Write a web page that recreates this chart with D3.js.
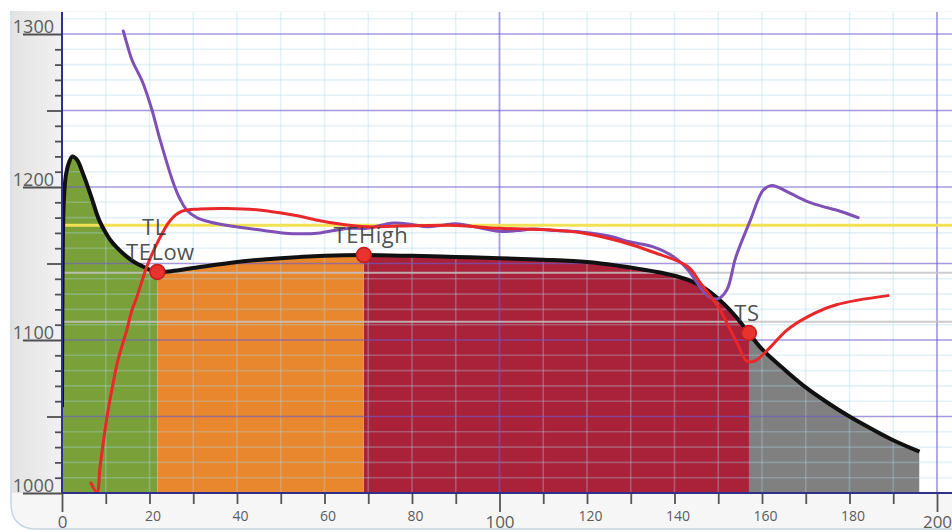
<!DOCTYPE html>
<html>
<head>
<meta charset="utf-8">
<script src="https://cdn.jsdelivr.net/npm/d3@7"></script>
<style>
  html, body { margin: 0; padding: 0; background: #fff; }
  svg { display: block; font-family: "Open Sans", "DejaVu Sans", sans-serif; }
</style>
</head>
<body>
<svg id="chart" width="952" height="532"></svg>
<script>
// ---- Cooling curve (time, temperature) ----
const coolingTime = [0, 0.15, 0.4, 0.9, 1.6, 2.4, 3.5, 4.5, 5.3, 6.4, 7.1, 8, 8.7, 9.7, 11, 12.5, 14.8, 16.5, 18.5, 20, 21.8,
  25, 30, 40, 50, 60, 69, 80, 90, 100, 110, 120, 127.5, 135, 140, 145, 150, 153.5, 157,
  160, 165, 170, 175, 180, 185, 190, 196];
const coolingTemp = [1056, 1150, 1190, 1208, 1216, 1220, 1217.5, 1211, 1205, 1196, 1190, 1182, 1177, 1171.5, 1165.5, 1160.5, 1154.5, 1151, 1148, 1146, 1144.5,
  1145, 1147, 1151, 1153.5, 1155, 1155.5, 1155, 1154.3, 1153.5, 1152.5, 1151, 1148.4, 1145, 1142, 1137, 1127, 1117, 1104.6,
  1094, 1081, 1069, 1059, 1050, 1042, 1034.5, 1027];

// ---- Violet trace ----
const violetTime = [14, 15, 16, 18.5, 20.6, 22.4, 25.4, 27, 28.5, 30.8, 34, 37.6, 45, 52.8, 59, 62, 66, 69.7,
  75.7, 80, 83.4, 87, 90, 96, 100, 104, 107.7, 113, 119, 125, 130, 135, 140, 143, 146, 148, 150, 152,
  154, 157.3, 160.3, 162.3, 165.7, 170, 173, 178, 182];
const violetTemp = [1302, 1292, 1283, 1268, 1250, 1231, 1203, 1192, 1185, 1180, 1177, 1175, 1172, 1169.5, 1170, 1171.5, 1173, 1173,
  1176.5, 1175.5, 1174, 1175, 1176, 1173, 1171, 1171.5, 1172.5, 1171.5, 1170.5, 1168, 1164, 1161, 1154, 1146, 1134, 1128, 1127, 1133,
  1154, 1178, 1198, 1201, 1197, 1191, 1188, 1184, 1180];

// ---- Red trace ----
const redTime = [6.6, 8, 8.7, 10.3, 11.7, 12.8, 14.8, 16, 17.1, 19.4, 21.7, 24.7, 27.3, 31.5, 37.7, 45, 52.8, 59, 62, 69.7,
  77, 88.7, 100, 111.5, 119, 127.5, 135, 143, 146, 150, 152, 154.3, 156.6, 158.5, 161.8, 165.7, 170.3, 177, 188.8];
const redTemp = [1006.5, 1000.6, 1017, 1050, 1072, 1087, 1106.5, 1119.6, 1128, 1148, 1163, 1178, 1184, 1185.6, 1186, 1185, 1181.7, 1178, 1176.5, 1174,
  1174.5, 1175, 1173, 1172, 1170, 1164.5, 1157.5, 1148, 1137, 1121.6, 1111, 1098, 1086, 1086.5, 1095, 1106.5, 1115, 1123, 1129];

// ---- Solidification stages under the cooling curve ----
const stageStart = [0, 21.8, 69, 157];
const stageEnd = [21.8, 69, 157, 196];

// ---- Characteristic points ----
const pointLabels = ["TELow", "TEHigh", "TS"];
const pointTime = [21.8, 69, 157];
const pointTemp = [1144.5, 1155.5, 1104.6];
const upperLabel = "TL";

// ---- Horizontal reference levels ----
const levelTemps = [1175, 1144, 1112];

// ---- Axis ticks ----
const xTickValues = d3.range(0, 201, 10);
const xTickLabels = [0, 20, 40, 60, 80, 100, 120, 140, 160, 180, 200];
const yTickValues = d3.range(1000, 1301, 10);
const yTickLabels = [1000, 1100, 1200, 1300];

// ---- Styles ----
const stageColors = ["#7aa03a", "#e8872d", "#aa213a", "#808080"];
const levelColors = ["#f2e055", "rgba(195,195,195,0.85)", "rgba(195,195,195,0.85)"];

const plot = { l: 62, t: 12, r: 952, b: 493 };
const x = d3.scaleLinear().domain([0, 200]).range([62, 937]);
const y = d3.scaleLinear().domain([1000, 1300]).range([493, 34]);

const svg = d3.select("#chart");
const defs = svg.append("defs");

const grad = defs.append("linearGradient").attr("id", "panelGrad")
  .attr("x1", 0).attr("x2", 1).attr("y1", 0).attr("y2", 0);
grad.append("stop").attr("offset", 0).attr("stop-color", "#e3e3e3");
grad.append("stop").attr("offset", 1).attr("stop-color", "#f1f1f1");

defs.append("clipPath").attr("id", "plotClip").append("rect")
  .attr("x", plot.l).attr("y", plot.t)
  .attr("width", plot.r - plot.l).attr("height", plot.b - plot.t);

// Frame (left and bottom edges with a rounded corner) and left panel
svg.append("path")
  .attr("d", `M11,11V503Q11,529 37,529H960V11Z`)
  .attr("fill", "#f6f6f6");
svg.append("path")
  .attr("d", `M11,11V503Q11,529 37,529H960`)
  .attr("fill", "none").attr("stroke", "#c8d5e4").attr("stroke-width", 1.5);
svg.append("rect").attr("x", 11.8).attr("y", 11).attr("width", plot.l - 11.8).attr("height", plot.b - 11)
  .attr("fill", "url(#panelGrad)");
svg.append("rect").attr("x", plot.l).attr("y", plot.t)
  .attr("width", plot.r - plot.l).attr("height", plot.b - plot.t).attr("fill", "#ffffff");

const plotG = svg.append("g").attr("clip-path", "url(#plotClip)");
const smooth = d3.curveCatmullRom.alpha(0.5);

// Stage areas under the cooling curve
const coolPts = coolingTime.map((t, i) => [t, coolingTemp[i]]);
const area = d3.area().x(d => x(d[0])).y0(y(1000)).y1(d => y(d[1])).curve(smooth);
stageStart.forEach((s, i) => {
  const id = "stageClip" + i;
  defs.append("clipPath").attr("id", id).append("rect")
    .attr("x", x(s)).attr("y", plot.t)
    .attr("width", x(stageEnd[i]) - x(s)).attr("height", plot.b - plot.t);
  plotG.append("path").datum(coolPts)
    .attr("clip-path", `url(#${id})`)
    .attr("fill", stageColors[i]).attr("d", area);
});

// Minor grid
const minorX = d3.range(0, 210, 10).filter(v => v % 100 !== 0);
const minorY = d3.range(1000, 1320, 10).filter(v => v % 50 !== 0);
plotG.selectAll(".gvx").data(minorX).join("line")
  .attr("x1", d => x(d)).attr("x2", d => x(d)).attr("y1", plot.t).attr("y2", plot.b)
  .attr("stroke", "rgba(170,215,230,0.32)").attr("stroke-width", 1.6);
plotG.selectAll(".ghy").data(minorY).join("line")
  .attr("x1", plot.l).attr("x2", plot.r).attr("y1", d => y(d)).attr("y2", d => y(d))
  .attr("stroke", "rgba(170,215,230,0.32)").attr("stroke-width", 1.6);

// Major grid
const majorY = d3.range(1000, 1320, 50);
plotG.selectAll(".gmy").data(majorY).join("line")
  .attr("x1", plot.l).attr("x2", plot.r).attr("y1", d => y(d)).attr("y2", d => y(d))
  .attr("stroke", "rgba(110,90,205,0.62)").attr("stroke-width", 1.7);
plotG.selectAll(".gmx").data([100, 200]).join("line")
  .attr("x1", d => x(d)).attr("x2", d => x(d)).attr("y1", plot.t).attr("y2", plot.b)
  .attr("stroke", "rgba(110,90,205,0.62)").attr("stroke-width", 1.7);

// Reference levels
plotG.selectAll(".lvl").data(levelTemps).join("line")
  .attr("x1", plot.l).attr("x2", plot.r).attr("y1", d => y(d)).attr("y2", d => y(d))
  .attr("stroke", (d, i) => levelColors[i]).attr("stroke-width", (d, i) => i === 0 ? 2.8 : 2);

// Curves
const line = d3.line().x(d => x(d[0])).y(d => y(d[1])).curve(smooth);
plotG.append("path").datum(coolPts)
  .attr("fill", "none").attr("stroke", "#111").attr("stroke-width", 4)
  .attr("stroke-linejoin", "round").attr("d", line);
plotG.append("path").datum(violetTime.map((t, i) => [t, violetTemp[i]]))
  .attr("fill", "none").attr("stroke", "#7f50b6").attr("stroke-width", 3)
  .attr("stroke-linecap", "round").attr("d", line);
plotG.append("path").datum(redTime.map((t, i) => [t, redTemp[i]]))
  .attr("fill", "none").attr("stroke", "#e8282a").attr("stroke-width", 3)
  .attr("stroke-linecap", "round").attr("d", line);

// Axes
const xAxis = d3.axisBottom(x).tickValues(xTickValues).tickSize(11).tickSizeOuter(0)
  .tickFormat(d => xTickLabels.includes(d) ? d : "");
const gx = svg.append("g").attr("transform", `translate(0,${plot.b})`).call(xAxis);
gx.select(".domain").remove();
gx.selectAll(".tick line").attr("stroke", "#555").attr("stroke-width", 1.8)
  .attr("y2", d => d % 100 === 0 ? 19 : 11);
gx.selectAll(".tick text")
  .attr("fill", "#5c5c5c").attr("font-family", "'Open Sans', sans-serif")
  .attr("font-size", d => d % 100 === 0 ? 17 : 14)
  .attr("x", d => d % 100 === 0 ? 0 : 3)
  .attr("y", d => d % 100 === 0 ? 23 : 18);

const yAxis = d3.axisLeft(y).tickValues(yTickValues).tickSizeOuter(0)
  .tickFormat(d => yTickLabels.includes(d) ? d : "");
const gy = svg.append("g").attr("transform", `translate(${plot.l},0)`).call(yAxis);
gy.select(".domain").remove();
gy.selectAll(".tick line").attr("stroke", "#505050").attr("stroke-width", 1.8)
  .attr("x2", d => d % 100 === 0 ? -39 : d % 50 === 0 ? -15 : -7);
gy.selectAll(".tick text")
  .attr("fill", "#5c5c5c").attr("font-family", "'Open Sans', sans-serif")
  .attr("font-size", 18).attr("x", -8).attr("dy", -2);

// Axis lines
svg.append("line").attr("x1", plot.l).attr("x2", plot.l).attr("y1", plot.t).attr("y2", plot.b)
  .attr("stroke", "#30308a").attr("stroke-width", 2);
svg.append("line").attr("x1", plot.l).attr("x2", plot.r).attr("y1", plot.b).attr("y2", plot.b)
  .attr("stroke", "#30308a").attr("stroke-width", 2);

// Characteristic points and labels
const ptG = svg.append("g");
ptG.selectAll("circle").data(pointTime).join("circle")
  .attr("cx", d => x(d)).attr("cy", (d, i) => y(pointTemp[i])).attr("r", 7.5)
  .attr("fill", "#e8322e").attr("stroke", "#c41c1c").attr("stroke-width", 1.5);
const labelDx = [3, 7, -2];
ptG.selectAll("text.pt").data(pointLabels).join("text").attr("class", "pt")
  .attr("x", (d, i) => x(pointTime[i]) + labelDx[i])
  .attr("y", (d, i) => y(pointTemp[i]) - 12)
  .attr("text-anchor", "middle").attr("font-size", 22).attr("letter-spacing", 0.5)
  .attr("fill", "#3a3a3a").attr("fill-opacity", 0.9).text(d => d);
ptG.append("text")
  .attr("x", x(pointTime[0]) - 3).attr("y", y(pointTemp[0]) - 37)
  .attr("text-anchor", "middle").attr("font-size", 22).attr("letter-spacing", 0.5)
  .attr("fill", "#3a3a3a").attr("fill-opacity", 0.9).text(upperLabel);
</script>
</body>
</html>
